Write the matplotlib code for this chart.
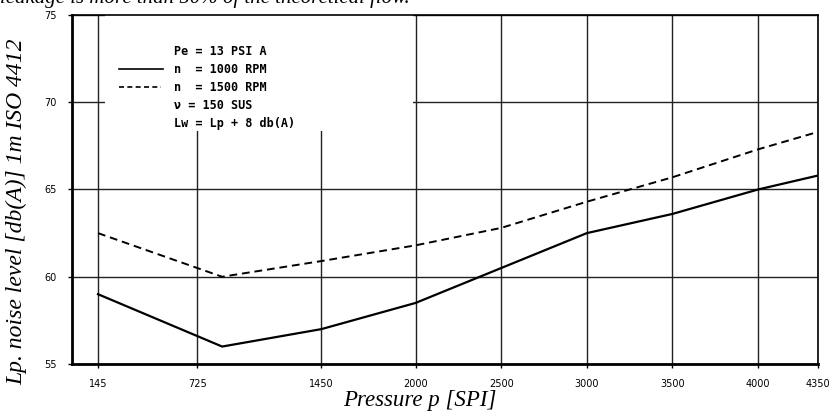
import matplotlib.pyplot as plt
from matplotlib.patches import Rectangle

# pressure in psi, noise level in db(A)
pressure = [145, 870, 1450, 2000, 2500, 3000, 3500, 4000, 4350]
noise_1000 = [59.0, 56.0, 57.0, 58.5, 60.5, 62.5, 63.6, 65.0, 65.8]
noise_1500 = [62.5, 60.0, 60.9, 61.8, 62.8, 64.3, 65.7, 67.3, 68.3]
x_ticks = [145, 725, 1450, 2000, 2500, 3000, 3500, 4000, 4350]
y_ticks = [55, 60, 65, 70, 75]
legend_rows = ['Pe = 13 PSI A', 'n  = 1000 RPM', 'n  = 1500 RPM', 'ν = 150 SUS', 'Lw = Lp + 8 db(A)']

fig = plt.figure(figsize=(8.35, 4.12), dpi=100)
ax = fig.add_axes([0.0862, 0.1165, 0.8934, 0.8471])

ax.plot(pressure, noise_1000, color='black', lw=1.6, zorder=3)
ax.plot(pressure, noise_1500, color='black', lw=1.4, ls=(0, (4, 2.5)), zorder=3)

ax.set_xlim(-7, 4350)
ax.set_ylim(55, 75)
ax.set_xticks(x_ticks)
ax.set_yticks(y_ticks)
ax.tick_params(direction='out', length=3, width=1, labelsize=7, pad=8)
ax.tick_params(axis='y', pad=8)
ax.grid(True, color='#222222', lw=1)
ax.set_axisbelow(True)
for s in ax.spines.values():
    s.set_linewidth(1.2)
ax.spines['left'].set_linewidth(2)
ax.spines['bottom'].set_linewidth(2)

# legend area blanks out the grid
ax.add_patch(Rectangle((185, 68.35), 1800, 6.65, facecolor='white', edgecolor='none', zorder=1))

# legend
ax.plot([270, 525], [71.9, 71.9], color='black', lw=1.2, zorder=3)
ax.plot([270, 515], [70.85, 70.85], color='black', lw=1.2, ls=(0, (3, 2)), zorder=3)
for i, row in enumerate(legend_rows):
    ax.text(590, 72.9 - i * 1.03, row, family='DejaVu Sans Mono', fontweight='bold',
            fontsize=8.5, va='center', ha='left', zorder=4)

serif = 'Liberation Serif'
fig.text(0.0, 1.005, 'leakage is more than 50% of the theoretical flow.', family=serif,
         style='italic', fontsize=15, ha='left', va='center')
fig.text(0.02, 0.485, 'Lp. noise level [db(A)] 1m ISO 4412', family=serif, style='italic',
         fontsize=17, rotation=90, ha='center', va='center')
fig.text(0.503, 0.028, 'Pressure p [SPI]', family=serif, style='italic',
         fontsize=16.5, ha='center', va='center')

fig.savefig('out.png', dpi=100)
